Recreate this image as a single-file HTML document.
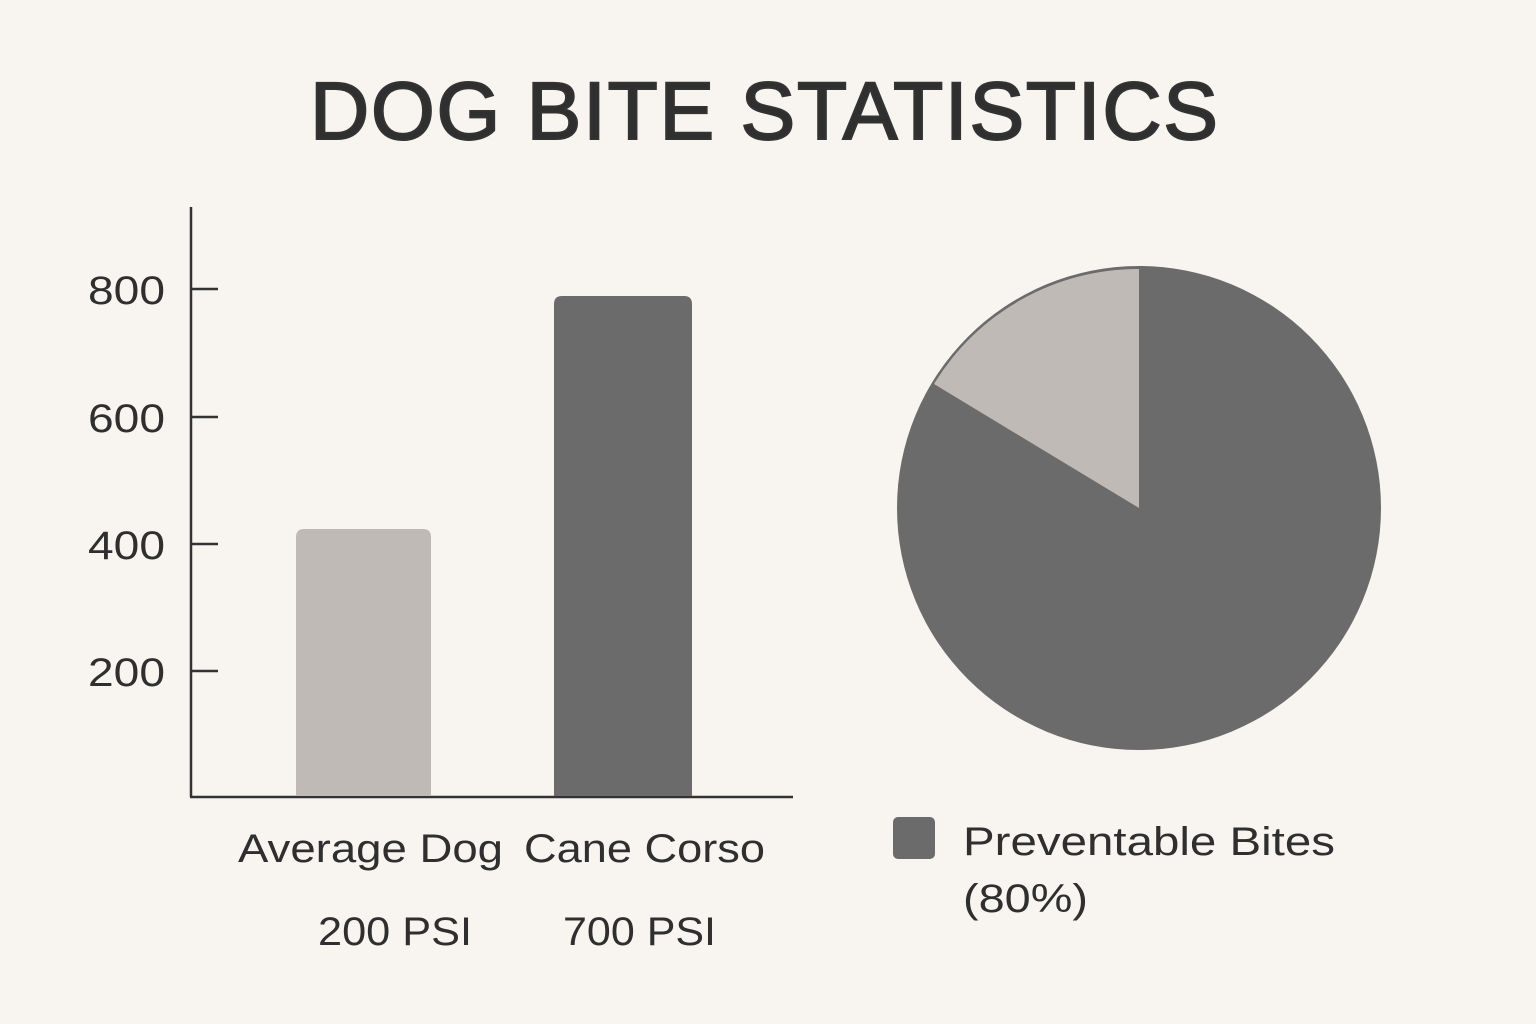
<!DOCTYPE html>
<html><head><meta charset="utf-8"><style>
html,body{margin:0;padding:0;background:#f8f5f1;}
svg{display:block}
text{font-family:"Liberation Sans",sans-serif;fill:#2f2f2f}
</style></head><body>
<svg width="1536" height="1024" viewBox="0 0 1536 1024">
<rect width="1536" height="1024" fill="#f8f5f1"/>
<text x="310" y="139" font-size="82" stroke="#333" stroke-width="2" textLength="908" lengthAdjust="spacing" fill="#333">DOG BITE STATISTICS</text>
<g stroke="#333" stroke-width="2.5">
<line x1="191" y1="207" x2="191" y2="797"/>
<line x1="190" y1="797" x2="793" y2="797"/>
<line x1="191" y1="289" x2="218" y2="289"/>
<line x1="191" y1="417" x2="218" y2="417"/>
<line x1="191" y1="544" x2="218" y2="544"/>
<line x1="191" y1="671" x2="218" y2="671"/>
</g>
<g font-size="40">
<text x="88" y="304" textLength="77" lengthAdjust="spacingAndGlyphs">800</text>
<text x="88" y="432" textLength="77" lengthAdjust="spacingAndGlyphs">600</text>
<text x="88" y="559" textLength="77" lengthAdjust="spacingAndGlyphs">400</text>
<text x="88" y="686" textLength="77" lengthAdjust="spacingAndGlyphs">200</text>
</g>
<path d="M296 796 V537 Q296 529 304 529 H423 Q431 529 431 537 V796 Z" fill="#bfbab5"/>
<path d="M554 796 V304 Q554 296 562 296 H684 Q692 296 692 304 V796 Z" fill="#6b6b6b"/>
<circle cx="1139" cy="508" r="242" fill="#6b6b6b"/>
<path d="M1139 508 L1139 269 A239 239 0 0 0 934 384 Z" fill="#bfbab5"/>
<g font-size="40">
<text x="238" y="862" textLength="265" lengthAdjust="spacingAndGlyphs">Average Dog</text>
<text x="524" y="862" textLength="241" lengthAdjust="spacingAndGlyphs">Cane Corso</text>
<text x="318" y="945" textLength="154" lengthAdjust="spacingAndGlyphs">200 PSI</text>
<text x="563" y="945" textLength="153" lengthAdjust="spacingAndGlyphs">700 PSI</text>
</g>
<rect x="893" y="817" width="42" height="42" rx="5" fill="#6b6b6b"/>
<text x="963" y="855" font-size="40" textLength="372" lengthAdjust="spacingAndGlyphs">Preventable Bites</text>
<text x="963" y="912" font-size="40" textLength="125" lengthAdjust="spacingAndGlyphs">(80%)</text>
</svg>
</body></html>
